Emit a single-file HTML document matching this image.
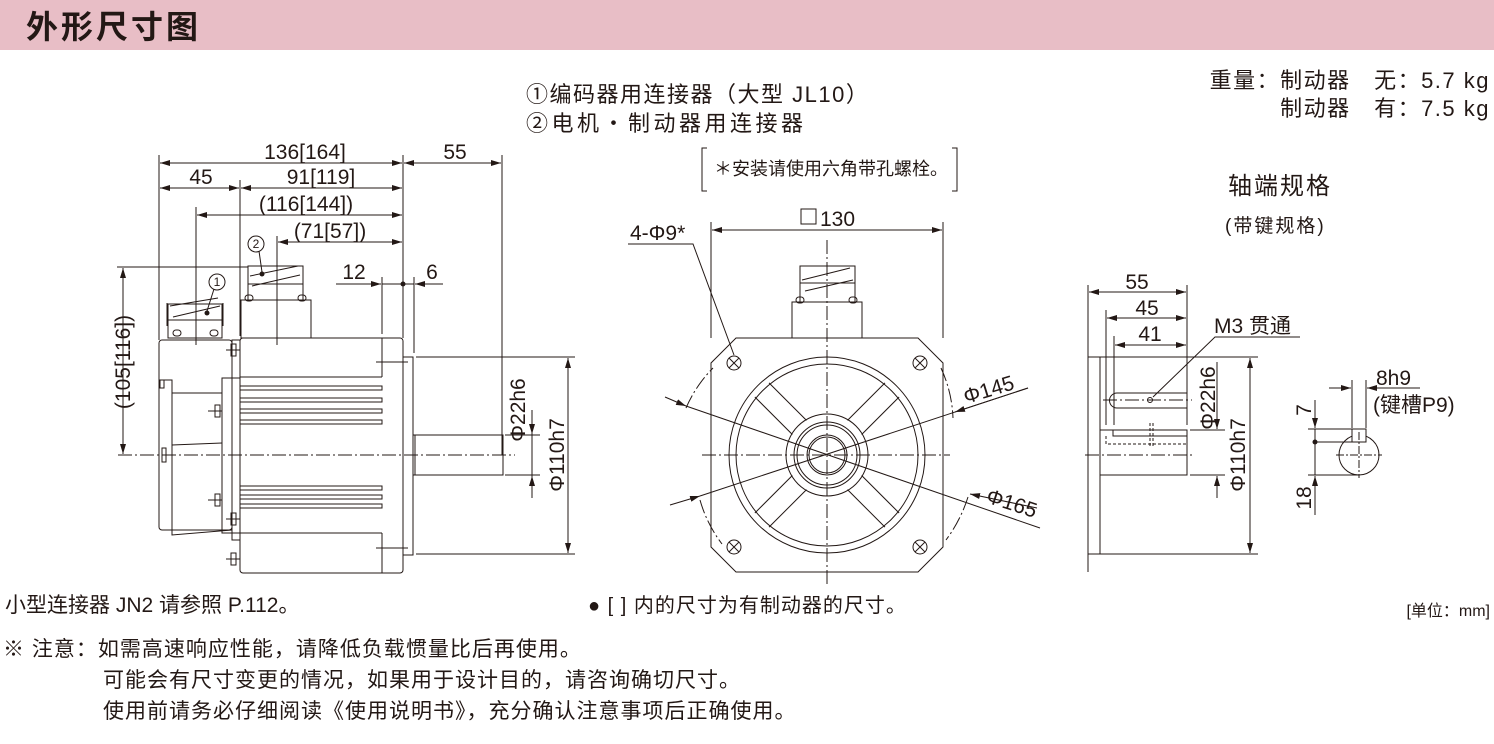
<!DOCTYPE html>
<html><head><meta charset="utf-8"><style>
html,body{margin:0;padding:0;background:#fff;}
svg{display:block;}
text{font-family:"Liberation Sans","Noto Sans CJK SC",sans-serif;fill:#231815;}
</style></head><body>
<svg width="1494" height="744" viewBox="0 0 1494 744" xmlns="http://www.w3.org/2000/svg">
<defs>
<marker id="a" viewBox="0 0 10 6" refX="10" refY="3" markerWidth="10" markerHeight="6" orient="auto-start-reverse" markerUnits="userSpaceOnUse"><path d="M0,0 L10,3 L0,6 z" fill="#231815"/></marker>
</defs>
<rect x="0" y="0" width="1494" height="50" fill="#e8bec6"/>
<text x="26" y="38" font-size="32" font-weight="bold" letter-spacing="3">外形尺寸图</text>

<text x="526" y="102" font-size="22" letter-spacing="1.5">①编码器用连接器（大型 JL10）</text>
<text x="526" y="131" font-size="22" letter-spacing="3.5">②电机・制动器用连接器</text>
<text x="1490" y="88" font-size="22" text-anchor="end" letter-spacing="1.5">重量：制动器　无：5.7 kg</text>
<text x="1490" y="116" font-size="22" text-anchor="end" letter-spacing="1.5">制动器　有：7.5 kg</text>
<text x="1228" y="194" font-size="24" letter-spacing="2">轴端规格</text>
<text x="1225" y="232" font-size="19" letter-spacing="2">(带键规格)</text>

<g stroke="#231815" stroke-width="1" fill="none">
<!-- LEFT VIEW -->
<line x1="159" y1="155" x2="159" y2="340"/>
<line x1="240" y1="180" x2="240" y2="336"/>
<line x1="196" y1="207" x2="196" y2="345"/>
<line x1="277" y1="236" x2="277" y2="345"/>
<line x1="403" y1="155" x2="403" y2="338"/>
<line x1="502" y1="155" x2="502" y2="455"/>
<line x1="160" y1="163" x2="402" y2="163" marker-start="url(#a)" marker-end="url(#a)"/>
<line x1="404" y1="163" x2="501" y2="163" marker-start="url(#a)" marker-end="url(#a)"/>
<line x1="160" y1="188" x2="239" y2="188" marker-start="url(#a)" marker-end="url(#a)"/>
<line x1="241" y1="188" x2="402" y2="188" marker-start="url(#a)" marker-end="url(#a)"/>
<line x1="197" y1="215" x2="402" y2="215" marker-start="url(#a)" marker-end="url(#a)"/>
<line x1="278" y1="242" x2="402" y2="242" marker-start="url(#a)" marker-end="url(#a)"/>
<line x1="382" y1="277" x2="382" y2="334"/>
<line x1="414" y1="277" x2="414" y2="353"/>
<line x1="336" y1="284" x2="381" y2="284" marker-end="url(#a)"/>
<line x1="382" y1="284" x2="414" y2="284"/>
<line x1="443" y1="284" x2="415" y2="284" marker-end="url(#a)"/>
<rect x="240" y="338" width="163" height="235" rx="3"/>
<rect x="403" y="357" width="10" height="198"/>
<rect x="413" y="435" width="90" height="40"/>
<line x1="415" y1="435" x2="415" y2="475"/>
<line x1="382" y1="338" x2="382" y2="377"/><line x1="240" y1="377" x2="382" y2="377"/>
<line x1="382" y1="533" x2="382" y2="573"/><line x1="240" y1="533" x2="382" y2="533"/>
<line x1="376" y1="362" x2="408" y2="362"/><line x1="376" y1="548" x2="408" y2="548"/>
<path d="M240 386 H382 V390 H240 M240 398 H382 V402 H240 M240 409 H382 V413 H240 M240 420 H382 V424 H240"/>
<path d="M240 486 H382 V490 H240 M240 495 H382 V499 H240 M240 504 H382 V508 H240"/>
<rect x="159" y="340" width="73" height="190" rx="3"/>
<path d="M159 380 H172 V535 L232 530"/>
<path d="M172 393 L222 393 M172 445 L222 443"/>
<rect x="222" y="378" width="18" height="155"/>
<rect x="232" y="340" width="8" height="200"/>
<rect x="160" y="380" width="4" height="8"/>
<rect x="162" y="448" width="4" height="14"/>
<rect x="215" y="405" width="5" height="12"/><rect x="215" y="494" width="5" height="12"/>
<rect x="231" y="344" width="5" height="12"/><rect x="231" y="513" width="5" height="12"/>
<rect x="231" y="553" width="5" height="12"/>
<path d="M208 411 H222 M208 500 H222 M226 350 H240 M226 519 H240 M226 559 H240"/>
<rect x="168" y="304" width="54" height="34"/>
<path d="M168 320 H222 M170 306 L218 298 M173 317 L220 306"/>
<path d="M167 303 V326 M223 303 V326"/>
<rect x="173" y="330" width="8" height="6" rx="3"/><rect x="210" y="330" width="8" height="6" rx="3"/>
<rect x="241" y="300" width="70" height="38"/>
<rect x="248" y="266" width="55" height="34"/>
<path d="M248 284 H303 M250 276 L298 266 M252 286 L300 275"/>
<rect x="245" y="295" width="8" height="6" rx="3"/><rect x="298" y="295" width="8" height="6" rx="3"/>
<line x1="277" y1="255" x2="277" y2="345"/>
<line x1="117" y1="267" x2="248" y2="267"/>
<line x1="123" y1="268" x2="123" y2="454" marker-start="url(#a)" marker-end="url(#a)"/>
<line x1="118" y1="455" x2="515" y2="455" stroke-dasharray="14 3 2 3"/>
<line x1="505" y1="435" x2="540" y2="435"/>
<line x1="505" y1="475" x2="540" y2="475"/>
<line x1="532" y1="410" x2="532" y2="434" marker-end="url(#a)"/>
<line x1="532" y1="498" x2="532" y2="476" marker-end="url(#a)"/>
<line x1="532" y1="434" x2="532" y2="476"/>
<line x1="416" y1="357" x2="575" y2="357"/>
<line x1="416" y1="554" x2="575" y2="554"/>
<line x1="568" y1="358" x2="568" y2="553" marker-start="url(#a)" marker-end="url(#a)"/>
<circle cx="217" cy="282" r="8"/><line x1="214" y1="289" x2="207" y2="311"/>
<circle cx="256" cy="244" r="8"/><line x1="259" y1="251" x2="262" y2="272"/>

<!-- CENTER VIEW -->
<path d="M707 148 H702 V191 H707 M952 148 H957 V191 H952"/>
<line x1="711" y1="222" x2="711" y2="338"/>
<line x1="943" y1="222" x2="943" y2="338"/>
<line x1="712" y1="230" x2="942" y2="230" marker-start="url(#a)" marker-end="url(#a)"/>
<rect x="801" y="209" width="15" height="15"/>
<path d="M736 338 H918 L943 363 V547 L918 572 H736 L711 547 V363 Z"/>
<circle cx="827" cy="455" r="98"/>
<circle cx="827" cy="455" r="91"/>
<circle cx="827" cy="455" r="41"/>
<circle cx="827" cy="455" r="33"/>
<circle cx="827" cy="455" r="30"/>
<circle cx="827" cy="455" r="20"/>
<circle cx="827" cy="455" r="18"/>
<g transform="rotate(45 827 455)"><path d="M866 445 H919 M866 465 H919"/></g>
<g transform="rotate(135 827 455)"><path d="M866 445 H919 M866 465 H919"/></g>
<g transform="rotate(225 827 455)"><path d="M866 445 H919 M866 465 H919"/></g>
<g transform="rotate(315 827 455)"><path d="M866 445 H919 M866 465 H919"/></g>
<g>
<circle cx="734" cy="363" r="7"/><path d="M729 358 L739 368 M739 358 L729 368"/>
<circle cx="920" cy="363" r="7"/><path d="M915 358 L925 368 M925 358 L915 368"/>
<circle cx="734" cy="547" r="7"/><path d="M729 542 L739 552 M739 542 L729 552"/>
<circle cx="920" cy="547" r="7"/><path d="M915 542 L925 552 M925 542 L915 552"/>
</g>
<line x1="827" y1="240" x2="827" y2="585" stroke-dasharray="14 3 2 3"/>
<line x1="702" y1="455" x2="950" y2="455" stroke-dasharray="14 3 2 3"/>
<path d="M686 408 A131 131 0 0 1 713 368" stroke-dasharray="14 3 2 3"/>
<path d="M941 368 A131 131 0 0 1 953 418" stroke-dasharray="14 3 2 3"/>
<path d="M700 500 A131 131 0 0 0 722 544" stroke-dasharray="14 3 2 3"/>
<path d="M968 497 A145 145 0 0 1 946 540" stroke-dasharray="14 3 2 3"/>
<line x1="665" y1="397" x2="686" y2="406" marker-end="url(#a)"/>
<line x1="686" y1="406" x2="1040" y2="528"/>
<line x1="1037" y1="508" x2="970" y2="494" marker-end="url(#a)"/>
<line x1="670" y1="505" x2="700" y2="496" marker-end="url(#a)"/>
<line x1="700" y1="496" x2="1028" y2="388"/>
<line x1="1028" y1="388" x2="955" y2="412" marker-end="url(#a)"/>
<rect x="792" y="302" width="70" height="36"/>
<rect x="800" y="266" width="55" height="36"/>
<path d="M800 283 H855 M802 280 L850 268 M805 291 L853 280"/>
<rect x="796" y="297" width="8" height="6" rx="3"/><rect x="849" y="297" width="8" height="6" rx="3"/>
<path d="M628 244 H693 L734 355"/>

<!-- RIGHT VIEW -->
<line x1="1088" y1="285" x2="1088" y2="572"/>
<rect x="1088" y="357" width="12" height="197"/>
<rect x="1100" y="430" width="87" height="45"/>
<path d="M1117 393 H1187 V408 H1117 A7.5 7.5 0 0 1 1117 393 Z"/>
<path d="M1113 430 V436 H1187" />
<path d="M1106 436 V444 H1187" stroke-dasharray="3 2"/>
<line x1="1150" y1="423" x2="1150" y2="446" stroke-dasharray="3 2"/>
<line x1="1153" y1="423" x2="1153" y2="446" stroke-dasharray="3 2"/>
<line x1="1103" y1="400" x2="1192" y2="400" stroke-dasharray="14 3 2 3"/>
<line x1="1085" y1="455" x2="1195" y2="455" stroke-dasharray="14 3 2 3"/>
<circle cx="1150" cy="400" r="2.5"/>
<line x1="1106" y1="310" x2="1106" y2="425"/>
<line x1="1114" y1="336" x2="1114" y2="425"/>
<line x1="1187" y1="285" x2="1187" y2="425"/>
<line x1="1089" y1="292" x2="1186" y2="292" marker-start="url(#a)" marker-end="url(#a)"/>
<line x1="1107" y1="318" x2="1186" y2="318" marker-start="url(#a)" marker-end="url(#a)"/>
<line x1="1115" y1="345" x2="1186" y2="345" marker-start="url(#a)" marker-end="url(#a)"/>
<path d="M1300 337 H1215 L1153 397"/>
<line x1="1100" y1="357" x2="1258" y2="357"/>
<line x1="1100" y1="554" x2="1258" y2="554"/>
<line x1="1250" y1="358" x2="1250" y2="553" marker-start="url(#a)" marker-end="url(#a)"/>
<line x1="1190" y1="430" x2="1225" y2="430"/>
<line x1="1190" y1="475" x2="1225" y2="475"/>
<line x1="1217" y1="362" x2="1217" y2="429" marker-end="url(#a)"/>
<line x1="1217" y1="498" x2="1217" y2="476" marker-end="url(#a)"/>
<circle cx="1359" cy="455" r="20"/>
<rect x="1352" y="429" width="14" height="13" fill="#fff"/>
<line x1="1336" y1="455" x2="1382" y2="455" stroke-dasharray="8 2 2 2"/>
<line x1="1359" y1="432" x2="1359" y2="478" stroke-dasharray="8 2 2 2"/>
<line x1="1352" y1="380" x2="1352" y2="428"/>
<line x1="1366" y1="380" x2="1366" y2="428"/>
<line x1="1329" y1="388" x2="1351" y2="388" marker-end="url(#a)"/>
<line x1="1420" y1="388" x2="1367" y2="388" marker-end="url(#a)"/>
<line x1="1308" y1="429" x2="1352" y2="429"/>
<line x1="1315" y1="442" x2="1352" y2="442"/>
<line x1="1308" y1="475" x2="1359" y2="475"/>
<line x1="1315" y1="400" x2="1315" y2="428" marker-end="url(#a)"/>
<line x1="1315" y1="429" x2="1315" y2="475"/>
<line x1="1315" y1="515" x2="1315" y2="476" marker-end="url(#a)"/>
</g>
<circle cx="403" cy="284" r="2.5" fill="#231815"/>
<circle cx="207" cy="313" r="2.5" fill="#231815"/>
<circle cx="262" cy="274" r="2.5" fill="#231815"/>
<circle cx="1315" cy="442" r="2.5" fill="#231815"/>

<g font-size="21">
<text x="305" y="159" text-anchor="middle">136[164]</text>
<text x="455" y="159" text-anchor="middle">55</text>
<text x="201" y="184" text-anchor="middle">45</text>
<text x="321" y="184" text-anchor="middle">91[119]</text>
<text x="306" y="211" text-anchor="middle">(116[144])</text>
<text x="330" y="238" text-anchor="middle">(71[57])</text>
<text x="354" y="279" text-anchor="middle">12</text>
<text x="432" y="279" text-anchor="middle">6</text>
<text transform="translate(130,362) rotate(-90)" text-anchor="middle">(105[116])</text>
<text transform="translate(525,410) rotate(-90)" text-anchor="middle">Φ22h6</text>
<text transform="translate(564,455) rotate(-90)" text-anchor="middle">Φ110h7</text>
<text x="820" y="226">130</text>
<text x="630" y="240">4-Φ9*</text>
<text transform="translate(966,404) rotate(-17)">Φ145</text>
<text transform="translate(985,502) rotate(18)">Φ165</text>
<text x="1137" y="289" text-anchor="middle">55</text>
<text x="1147" y="315" text-anchor="middle">45</text>
<text x="1150" y="341" text-anchor="middle">41</text>
<text x="1214" y="333">M3 贯通</text>
<text transform="translate(1215,398) rotate(-90)" text-anchor="middle">Φ22h6</text>
<text transform="translate(1245,455) rotate(-90)" text-anchor="middle">Φ110h7</text>
<text x="1376" y="385">8h9</text>
<text x="1373" y="412">(键槽P9)</text>
<text transform="translate(1311,410) rotate(-90)" text-anchor="middle">7</text>
<text transform="translate(1311,498) rotate(-90)" text-anchor="middle">18</text>
</g>
<text x="217" y="286" font-size="12" text-anchor="middle">1</text>
<text x="256" y="248" font-size="12" text-anchor="middle">2</text>
<text x="714" y="175" font-size="18">＊安装请使用六角带孔螺栓。</text>

<text x="5" y="612" font-size="21">小型连接器 JN2 请参照 P.112。</text>
<text x="588" y="612" font-size="20" letter-spacing="1">● [  ] 内的尺寸为有制动器的尺寸。</text>
<text x="1490" y="616" font-size="16" text-anchor="end">[单位：mm]</text>
<text x="3" y="656" font-size="21" letter-spacing="1">※ 注意：如需高速响应性能，请降低负载惯量比后再使用。</text>
<text x="103" y="687" font-size="21" letter-spacing="1">可能会有尺寸变更的情况，如果用于设计目的，请咨询确切尺寸。</text>
<text x="103" y="718" font-size="21" letter-spacing="1">使用前请务必仔细阅读《使用说明书》，充分确认注意事项后正确使用。</text>
</svg>
</body></html>
